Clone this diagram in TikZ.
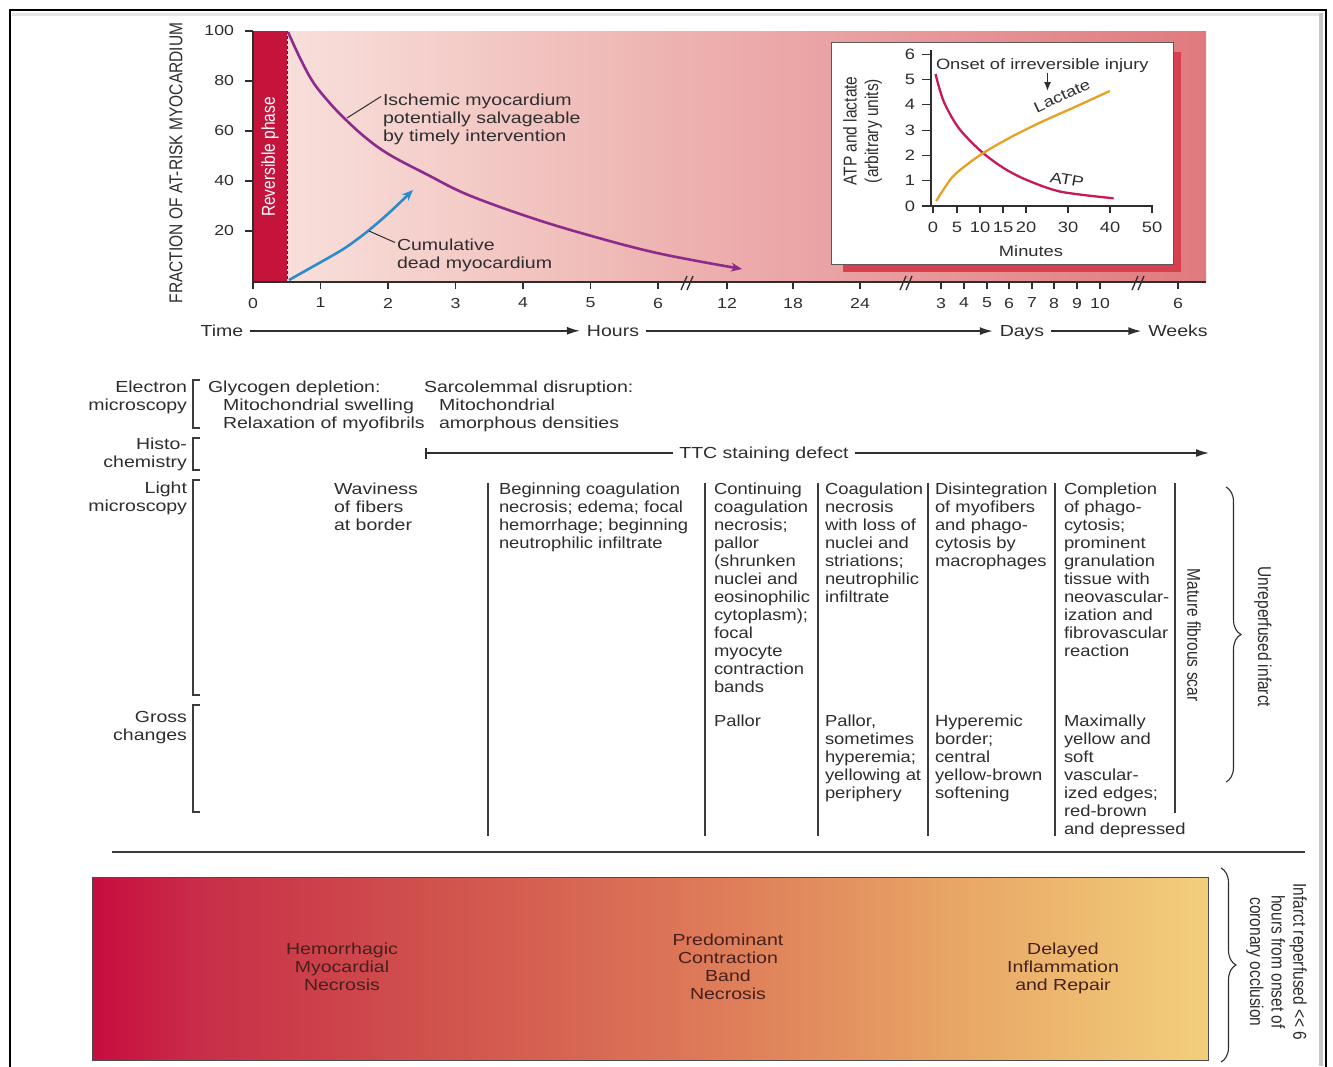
\documentclass[tikz,border=0pt]{standalone}
\usepackage{fontspec}
\usepackage{graphicx}
\setmainfont{Liberation Sans}[FakeStretch=1.22]
\newfontfamily\colfont{Liberation Sans}[FakeStretch=1.15]
\newfontfamily\rotfont{Liberation Sans}
\usetikzlibrary{arrows.meta,decorations.pathreplacing}

\definecolor{ink}{HTML}{2E2E2E}
\definecolor{rule}{HTML}{3C3C3C}
\definecolor{revred}{HTML}{C4143C}
\definecolor{ischpurple}{HTML}{8C2B8C}
\definecolor{deadblue}{HTML}{2B8CCC}
\definecolor{atpred}{HTML}{C8185A}
\definecolor{lacorange}{HTML}{E8A024}
\definecolor{insetshadow}{HTML}{D6404F}
\definecolor{bartext}{HTML}{45201D}
\definecolor{pinkA}{HTML}{F8DFDB}
\definecolor{pinkB}{HTML}{F4CDC9}
\definecolor{pinkC}{HTML}{EEB5B2}
\definecolor{pinkD}{HTML}{EAA2A3}
\definecolor{pinkE}{HTML}{E07A7E}
\definecolor{barA}{HTML}{C80C40}
\definecolor{barB}{HTML}{C82E48}
\definecolor{barC}{HTML}{CD444A}
\definecolor{barD}{HTML}{D66452}
\definecolor{barE}{HTML}{DF7F5A}
\definecolor{barF}{HTML}{E8A565}
\definecolor{barG}{HTML}{F2CF7B}

% stacked lines whose baseline is the baseline of the first line
\newcommand\mlines[2]{\begin{tabular}[t]{@{}#1@{}}#2\end{tabular}}
% vertical labels keep the same wide look as the horizontal text
\newcommand\tallrot[1]{\scalebox{1}[1.2]{#1}}

\begin{document}
\begin{tikzpicture}[x=1pt,y=-1pt,
  every node/.style={inner sep=0pt, outer sep=0pt, text=ink, font=\fontsize{16}{18}\selectfont},
  coltext/.style={anchor=base west, font=\colfont\fontsize{16}{18}\selectfont},
  rowlabel/.style={anchor=base east},
  rowbracket/.style={draw=rule, line width=1.3pt},
  colsep/.style={draw=rule, line width=1.8pt},
  axtick/.style={draw=ink, line width=1.2pt},
  ticklabel/.style={font=\fontsize{14.5}{16}\selectfont},
  insetlabel/.style={font=\fontsize{15}{17}\selectfont},
  rotlabel/.style={font=\rotfont\fontsize{15.5}{18}\selectfont},
  timelabel/.style={anchor=base, inner xsep=7pt},
  timearrow/.style={draw=ink, line width=1.6pt, -{Latex[length=13pt,width=8pt]}},
  leader/.style={draw=ink, line width=1pt},
  bracegroup/.style={draw=ink, line width=1.1pt, decorate, decoration={brace, amplitude=15pt}},
  bartxt/.style={text=bartext},
  curvetip/.style={-{Stealth[length=11pt,width=9pt]}},
]
\useasboundingbox (0,0) rectangle (1333,1066);
\fill[white] (0,0) rectangle (1333,1066);

% page frame
\draw[gray!45, line width=4pt] (1320.5,13) -- (1320.5,1066);
\draw[gray!20, line width=3pt] (12,14) -- (1319,14);
\draw[black, line width=2pt] (10,1070) -- (10,10) -- (1326,10) -- (1326,1070);

% ---------- time course of ischemic injury ----------
\shade[left color=pinkA, right color=pinkB] (286,31) rectangle (450.5,282);
\shade[left color=pinkB, right color=pinkC] (450,31) rectangle (650.5,282);
\shade[left color=pinkC, right color=pinkD] (650,31) rectangle (830.5,282);
\shade[left color=pinkD, right color=pinkE] (830,31) rectangle (1206,282);
\fill[revred] (253,31) rectangle (287,282);
\draw[ink, line width=1pt, dash pattern=on 3pt off 2pt] (287.5,31) -- (287.5,282);
\node[rotlabel, text=white, rotate=90] (rev) at (270,157) {\tallrot{Reversible phase}};

\draw[ink, line width=1.6pt] (253,31) -- (253,282) -- (1206,282);
\foreach \yy/\lab [count=\i] in {31/100, 81/80, 131/60, 181/40, 231/20} {
  \draw[axtick] (245,\yy) -- (253,\yy);
  \node[ticklabel, anchor=east] (yt\i) at (234,\yy) {\lab};
}
\foreach \xx/\lab [count=\i] in {253/0, 320.5/1, 388/2, 455.5/3, 523/4, 590.5/5, 658/6,
    727/12, 793/18, 860/24, 941/3, 964/4, 987/5, 1009/6, 1032/7, 1054/8, 1077/9, 1100/10, 1178/6} {
  \draw[axtick] (\xx,282) -- (\xx,289);
  \node[ticklabel, anchor=north] (xt\i) at (\xx,298) {\lab};
}
% axis breaks
\foreach \bx in {688,907,1139} {
  \draw[ink, line width=1.3pt] (\bx-7,290) -- (\bx-1,276) (\bx-1,290) -- (\bx+5,276);
}
\node[rotlabel, rotate=90] (yaxis) at (176,163) {\tallrot{FRACTION OF AT-RISK MYOCARDIUM}};

% salvageable and dead myocardium
\draw[ischpurple, line width=2.6pt, curvetip] plot[smooth, tension=0.6] coordinates {(288,32) (300,58) (313,82) (328,101) (344,118) (366,138) (390,155) (428,175) (466,194) (523,215) (581,233) (657,253) (742,269)};
\draw[deadblue, line width=2.6pt, curvetip] plot[smooth] coordinates {(289,280) (321,262) (345,248) (368,231) (390,212) (413,190)};

\node[anchor=base west] (isch) at (383,105.5) {\mlines{l}{Ischemic myocardium\\potentially salvageable\\by timely intervention}};
\coordinate (ischfoot) at (347,118);
\draw[leader] ([shift={(-2,-9)}]isch.base west) -- (ischfoot);
\node[anchor=base west] (dead) at (397,250.5) {\mlines{l}{Cumulative\\dead myocardium}};
\coordinate (deadfoot) at (369,231);
\draw[leader] ([shift={(-2,-8)}]dead.base west) -- (deadfoot);

% time scale
\node[timelabel] (tTime) at (222,336.5) {Time};
\node[timelabel] (tHours) at (613,336.5) {Hours};
\node[timelabel] (tDays) at (1022,336.5) {Days};
\node[timelabel] (tWeeks) at (1178,336.5) {Weeks};
\draw[timearrow] (tTime.east) -- (tTime.east -| tHours.west);
\draw[timearrow] (tHours.east) -- (tHours.east -| tDays.west);
\draw[timearrow] (tDays.east |- tHours.east) -- (tHours.east -| tWeeks.west);

% ---------- inset: ATP and lactate ----------
\fill[insetshadow] (843,52) rectangle (1181,272);
\draw[fill=white, draw=gray!70!black, line width=0.8pt] (831,42) rectangle (1173,264);
\draw[ink, line width=1.4pt] (931,50) -- (931,206) -- (1153,206);
\foreach \v [count=\i] in {0,...,6} {
  \draw[axtick] (922,{206-25.3*\v}) -- (931,{206-25.3*\v});
  \node[insetlabel, anchor=east] (iy\i) at (915,{206-25.3*\v}) {\v};
}
\foreach \xx/\lab [count=\i] in {933/0, 957/5, 980/10, 1003/15, 1026/20, 1068/30, 1110/40, 1152/50} {
  \draw[axtick] (\xx,206) -- (\xx,213);
  \node[insetlabel, anchor=north] (ix\i) at (\xx,222) {\lab};
}
\node[insetlabel, anchor=base] (minutes) at (1031,256.5) {Minutes};
\node[rotlabel, rotate=90] (atpaxis) at (863,131) {\tallrot{\mlines{c}{ATP and lactate\\(arbitrary units)}}};

\draw[atpred, line width=2.3pt] plot[smooth] coordinates {(935.5,74) (943.8,101.7) (958.9,128.3) (981.5,151.7) (1004,168.3) (1026.8,180) (1060.8,191.7) (1113.6,198.3)};
\draw[lacorange, line width=2.3pt] plot[smooth] coordinates {(936.2,201) (951.3,178.3) (966.4,165) (985.3,151.7) (1011.7,136.7) (1041.9,121.7) (1072,108.3) (1109.8,91)};
\node[insetlabel, rotate=25] (lactate) at (1062,96) {Lactate};
\node[insetlabel, rotate=-10] (atp) at (1067,180) {ATP};

\node[insetlabel, anchor=base west] (onset) at (936,69.5) {Onset of irreversible injury};
\coordinate (onsettip) at (1047.5,91);
\draw[ink, line width=1.4pt, -{Latex[length=9pt,width=7pt]}] (onset.south -| onsettip) -- (onsettip);

% ---------- morphological changes ----------
\node[rowlabel] (rEM) at (187,392.5) {\mlines{r}{Electron\\microscopy}};
\node[rowlabel] (rHC) at (187,449.5) {\mlines{r}{Histo-\\chemistry}};
\node[rowlabel] (rLM) at (187,493.5) {\mlines{r}{Light\\microscopy}};
\node[rowlabel] (rGC) at (187,722.5) {\mlines{r}{Gross\\changes}};
\draw[rowbracket] (200,380) -- (193,380) -- (193,428) -- (200,428);
\draw[rowbracket] (200,438) -- (193,438) -- (193,470) -- (200,470);
\draw[rowbracket] (200,480) -- (193,480) -- (193,695) -- (200,695);
\draw[rowbracket] (200,705) -- (193,705) -- (193,812) -- (200,812);

\node[anchor=base west] (em1) at (208,392.5) {\mlines{l}{Glycogen depletion:\\\hspace*{15pt}Mitochondrial swelling\\\hspace*{15pt}Relaxation of myofibrils}};
\node[anchor=base west] (em2) at (424,392.5) {\mlines{l}{Sarcolemmal disruption:\\\hspace*{15pt}Mitochondrial\\\hspace*{15pt}amorphous densities}};

\coordinate (ttcstart) at (425,453);
\coordinate (ttcend) at (1209,453);
\node[anchor=base, inner xsep=6pt] (ttc) at (764,458.5) {TTC staining defect};
\draw[ink, line width=1.6pt, {Bar[width=11pt]}-] (ttcstart) -- (ttcstart -| ttc.west);
\draw[ink, line width=1.6pt, -{Latex[length=13pt,width=8pt]}] (ttc.east |- ttcend) -- (ttcend);

\node[anchor=base west] (wav) at (334,494.5) {\mlines{l}{Waviness\\of fibers\\at border}};

\foreach \xx [count=\i] in {488,705,818,928,1055} \draw[colsep] (\xx,483) -- (\xx,836);
\draw[colsep] (1175,483) -- (1175,813);

\node[coltext] (lm1) at (499,494.5) {\mlines{l}{Beginning coagulation\\necrosis; edema; focal\\hemorrhage; beginning\\neutrophilic infiltrate}};
\node[coltext] (lm2) at (714,494.5) {\mlines{l}{Continuing\\coagulation\\necrosis;\\pallor\\(shrunken\\nuclei and\\eosinophilic\\cytoplasm);\\focal\\myocyte\\contraction\\bands}};
\node[coltext] (lm3) at (825,494.5) {\mlines{l}{Coagulation\\necrosis\\with loss of\\nuclei and\\striations;\\neutrophilic\\infiltrate}};
\node[coltext] (lm4) at (935,494.5) {\mlines{l}{Disintegration\\of myofibers\\and phago-\\cytosis by\\macrophages}};
\node[coltext] (lm5) at (1064,494.5) {\mlines{l}{Completion\\of phago-\\cytosis;\\prominent\\granulation\\tissue with\\neovascular-\\ization and\\fibrovascular\\reaction}};

\node[coltext] (gc2) at (714,726.5) {Pallor};
\node[coltext] (gc3) at (825,726.5) {\mlines{l}{Pallor,\\sometimes\\hyperemia;\\yellowing at\\periphery}};
\node[coltext] (gc4) at (935,726.5) {\mlines{l}{Hyperemic\\border;\\central\\yellow-brown\\softening}};
\node[coltext] (gc5) at (1064,726.5) {\mlines{l}{Maximally\\yellow and\\soft\\vascular-\\ized edges;\\red-brown\\and depressed}};

\node[rotlabel, rotate=-90] (scar) at (1194,635) {\tallrot{Mature fibrous scar}};
\draw[bracegroup] (1226,487) -- (1226,782);
\node[rotlabel, rotate=-90] (unrep) at (1263,637) {\tallrot{Unreperfused infarct}};

% ---------- reperfused infarct ----------
\draw[rule, line width=1.6pt] (112,852) -- (1305,852);
\shade[left color=barA, right color=barB] (92,877) rectangle (200.5,1060);
\shade[left color=barB, right color=barC] (200,877) rectangle (340.5,1060);
\shade[left color=barC, right color=barD] (340,877) rectangle (560.5,1060);
\shade[left color=barD, right color=barE] (560,877) rectangle (740.5,1060);
\shade[left color=barE, right color=barF] (740,877) rectangle (950.5,1060);
\shade[left color=barF, right color=barG] (950,877) rectangle (1208,1060);
\draw[gray!60!black, line width=1pt] (92,877) rectangle (1208,1060);

\node[bartxt] (hem) at (342,969) {\mlines{c}{Hemorrhagic\\Myocardial\\Necrosis}};
\node[bartxt] (cbn) at (728,969) {\mlines{c}{Predominant\\Contraction\\Band\\Necrosis}};
\node[bartxt] (dir) at (1063,969) {\mlines{c}{Delayed\\Inflammation\\and Repair}};

\draw[bracegroup] (1221,868) -- (1221,1062);
\node[rotlabel, rotate=-90] (reperf) at (1276,962) {\tallrot{\mlines{c}{Infarct reperfused <\kern0pt< 6\\hours from onset of\\coronary occlusion}}};
\end{tikzpicture}
\end{document}
